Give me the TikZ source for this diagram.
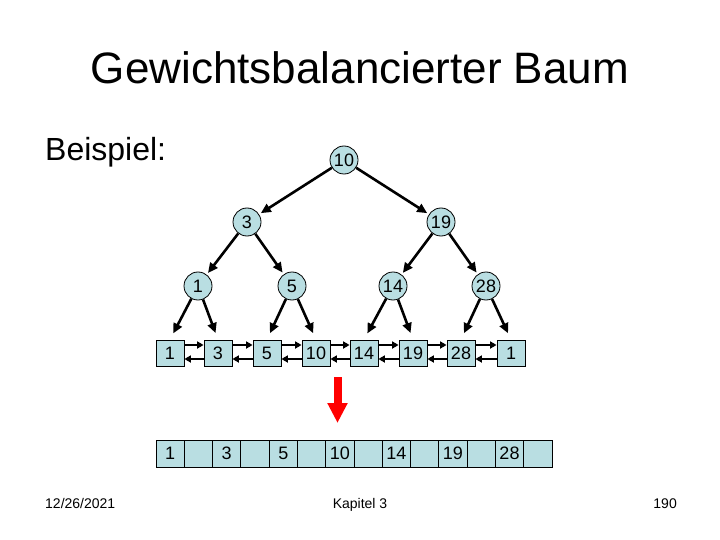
\documentclass[tikz,border=0pt]{standalone}
\usepackage{fontspec}
\setmainfont{Liberation Sans}
\usetikzlibrary{arrows.meta}
\definecolor{nodefill}{RGB}{185,222,226}
\definecolor{arrowred}{RGB}{255,0,0}
\begin{document}
\begin{tikzpicture}[x=1pt,y=-1pt,
  circ/.style={circle,draw=black,line width=0.8pt,fill=nodefill,minimum size=28pt,inner sep=0pt,font=\fontsize{18}{18}\selectfont},
  cell/.style={rectangle,draw=black,line width=0.8pt,fill=nodefill,minimum width=28pt,minimum height=26pt,inner sep=0pt,font=\fontsize{18}{18}\selectfont},
  acell/.style={rectangle,draw=black,line width=0.8pt,fill=nodefill,minimum width=28.28pt,minimum height=27pt,inner sep=0pt,font=\fontsize{18}{18}\selectfont},
  treeedge/.style={line width=2.6pt,-{Triangle[length=10pt,width=9pt]},shorten >=2pt},
  leafedge/.style={line width=2.6pt,-{Triangle[length=10pt,width=9pt]},shorten >=7pt},
  linkedge/.style={line width=2.4pt,-{Triangle[length=6.5pt,width=7pt]}},
  txt/.style={inner sep=0pt}
]
\path[use as bounding box,fill=white] (0,0) rectangle (720,540);

% texts
\node[txt,anchor=base,font=\fontsize{44}{44}\selectfont] (title) at (360,84) {Gewichtsbalancierter Baum};
\node[txt,anchor=base west,font=\fontsize{32}{32}\selectfont] (bsp) at (45,161) {Beispiel:};
\node[txt,anchor=base west,font=\fontsize{14}{14}\selectfont] (date) at (45,508) {12/26/2021};
\node[txt,anchor=base,font=\fontsize{14}{14}\selectfont] (kap) at (360,508) {Kapitel 3};
\node[txt,anchor=base east,font=\fontsize{14}{14}\selectfont] (page) at (677,508) {190};

% tree nodes
\node[circ] (n10) at (344,160) {10};
\node[circ] (n3) at (247,222) {3};
\node[circ] (n19) at (441,222) {19};
\node[circ] (n1) at (198,286) {1};
\node[circ] (n5) at (292,286) {5};
\node[circ] (n14) at (393,286) {14};
\node[circ] (n28) at (486,286) {28};

% leaf list
\node[cell] (b1) at (170,353) {1};
\node[cell] (b2) at (218,353) {3};
\node[cell] (b3) at (267,353) {5};
\node[cell] (b4) at (316,353) {10};
\node[cell] (b5) at (364,353) {14};
\node[cell] (b6) at (413,353) {19};
\node[cell] (b7) at (461,353) {28};
\node[cell] (b8) at (511,353) {1};

% tree edges
\draw[treeedge] (n10) -- (n3);
\draw[treeedge] (n10) -- (n19);
\draw[treeedge] (n3) -- (n1);
\draw[treeedge] (n3) -- (n5);
\draw[treeedge] (n19) -- (n14);
\draw[treeedge] (n19) -- (n28);
\draw[leafedge] (n1) -- (b1.north);
\draw[leafedge] (n1) -- (b2.north);
\draw[leafedge] (n5) -- (b3.north);
\draw[leafedge] (n5) -- (b4.north);
\draw[leafedge] (n14) -- (b5.north);
\draw[leafedge] (n14) -- (b6.north);
\draw[leafedge] (n28) -- (b7.north);
\draw[leafedge] (n28) -- (b8.north);

% list links
\foreach \a/\b in {b1/b2,b2/b3,b3/b4,b4/b5,b5/b6,b6/b7,b7/b8}{
  \draw[linkedge] ([yshift=8pt]\a.east) -- ([yshift=8pt]\b.west);
  \draw[linkedge] ([yshift=-6pt]\b.west) -- ([yshift=-6pt]\a.east);
}

% red arrow
\coordinate (rtop) at (337.5,377);
\coordinate (rtip) at (337.5,423);
\draw[arrowred,line width=8pt,-{Triangle[length=20pt,width=19pt]}] (rtop) -- (rtip);

% array
\foreach \i/\v in {0/1,1/,2/3,3/,4/5,5/,6/10,7/,8/14,9/,10/19,11/,12/28,13/}{
  \node[acell] (a\i) at ({170.14+28.28*\i},453.5) {\v};
}
\end{tikzpicture}
\end{document}
